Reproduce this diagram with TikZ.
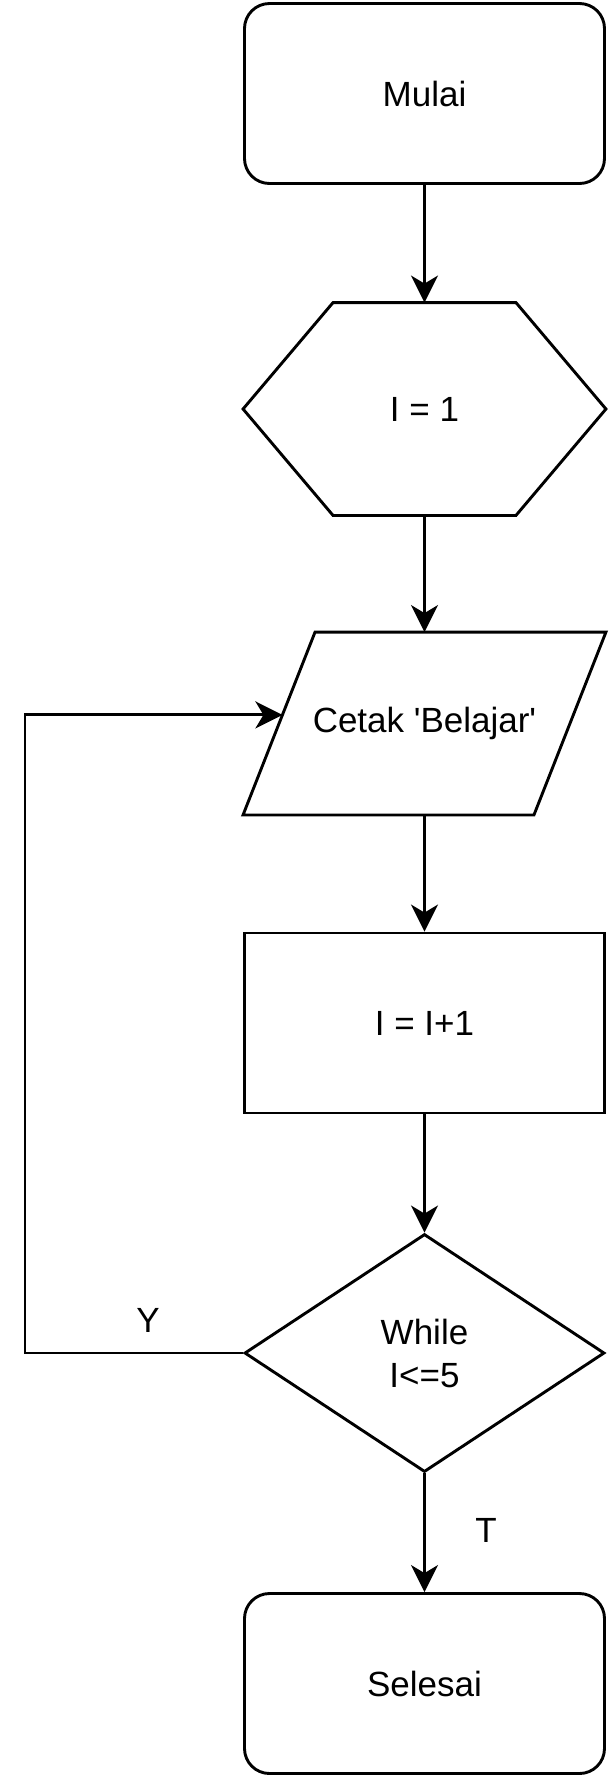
\documentclass[tikz,border=0pt]{standalone}
\usepackage{fontspec}
\setmainfont{Liberation Sans}
\usepackage{tikz}
\usetikzlibrary{arrows.meta,shapes.geometric}
\usetikzlibrary{calc}

\tikzset{
  flow/.style={line width=1.45pt,font=\fontsize{17.5}{21.5}\selectfont,align=center,inner sep=0pt,minimum width=180pt},
  terminal/.style={flow,draw,rounded corners=12.5pt,minimum height=90pt},
  process/.style={flow,draw,minimum height=90pt},
  blank/.style={flow,draw=none},
  decision/.style={flow,draw,diamond,minimum height=119pt},
  arr/.style={line width=1.45pt,-{Stealth[length=13.5pt,width=13.5pt,inset=4pt]}}
}

\begin{document}
\begin{tikzpicture}[x=0.5pt,y=-0.5pt]
\useasboundingbox (0,0) rectangle (609,1779);

\node[terminal] (mulai) at (424.5,93.5) {Mulai};
\node[blank,minimum height=105pt] (init) at (424.5,409) {I = 1};
\node[blank,minimum height=90pt] (cetak) at (424.5,723.5) {Cetak \textquotesingle Belajar\textquotesingle};
\node[process] (tambah) at (424.5,1023) {I = I+1};
\node[decision] (while) at (424.5,1353) {While\\I<=5};
\node[terminal] (selesai) at (424.5,1683.5) {Selesai};

% hexagon and parallelogram outlines
\draw[line width=1.45pt,line join=miter] (init.west) -- ([xshift=45pt]init.north west) -- ([xshift=-45pt]init.north east) -- (init.east) -- ([xshift=-45pt]init.south east) -- ([xshift=45pt]init.south west) -- cycle;
\draw[line width=1.45pt] ([xshift=36pt]cetak.north west) -- (cetak.north east) -- ([xshift=-36pt]cetak.south east) -- (cetak.south west) -- cycle;

\coordinate (cetakin) at ($([xshift=36pt]cetak.north west)!0.453!(cetak.south west)$);
\coordinate (loopx) at (25,0);

\draw[arr] (mulai) -- (init);
\draw[arr] (init) -- (cetak);
\draw[arr] (cetak) -- (tambah);
\draw[arr] (tambah) -- (while);
\draw[arr] (while) -- (selesai);
\draw[arr] (while.west) -- (while.west -| loopx) |- (cetakin);

\node[font=\fontsize{17.5}{21.5}\selectfont] (ya) at (148,1320) {Y};
\node[font=\fontsize{17.5}{21.5}\selectfont] (tidak) at (486,1530) {T};
\end{tikzpicture}
\end{document}
